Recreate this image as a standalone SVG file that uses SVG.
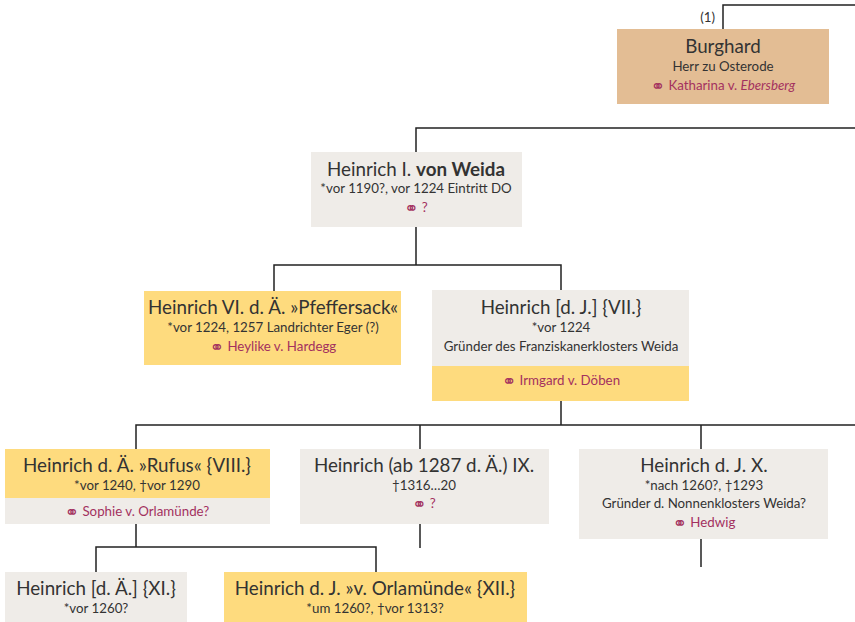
<svg xmlns="http://www.w3.org/2000/svg" width="855" height="622" viewBox="0 0 855 622">
<style>
.bg{fill:#ffffff}
.g{fill:#efece8}
.y{fill:#fedb7e}
.b{fill:#e3bd94}
text{font-family:"Lato","Noto Sans",sans-serif;fill:#333;text-anchor:middle}
.t{font-size:18.8px}
.d{font-size:13.3px}
.m{font-size:13.3px;fill:#a3315f}
.sym{font-family:"DejaVu Sans Mono","DejaVu Sans",sans-serif;font-size:17px;fill:#a3315f}
.c{fill:none;stroke:#222;stroke-width:1.5}
</style>
<rect class="bg" width="855" height="622"/>
<g id="connectors">
<path class="c" d="M723 29V5H855"/>
<path class="c" d="M416 152V128H855"/>
<path class="c" d="M416 227V265M274 291V265H561V290"/>
<path class="c" d="M561 401V425M136 449V425H855M420 425V449M701 425V449"/>
<path class="c" d="M701 539V567"/>
<path class="c" d="M420 524V548"/>
<path class="c" d="M136 524V547M96 572V547H376V572"/>
</g>
<text x="715" y="22" class="d" style="text-anchor:end">(1)</text>
<g id="burghard">
<rect class="b" x="617" y="29" width="212" height="75"/>
<text x="723" y="53" class="t">Burghard</text>
<text x="723" y="71" class="d">Herr zu Osterode</text>
<text x="723" y="90" class="m"><tspan class="sym" dy="2">⚭</tspan><tspan dy="-2"> Katharina v. </tspan><tspan font-style="italic">Ebersberg</tspan></text>
</g>
<g id="heinrich1">
<rect class="g" x="311" y="152" width="211" height="75"/>
<text x="416" y="176" class="t">Heinrich I. <tspan font-weight="bold">von Weida</tspan></text>
<text x="416" y="193" class="d">*vor 1190?, vor 1224 Eintritt DO</text>
<text x="416" y="212" class="m"><tspan class="sym" dy="2">⚭</tspan><tspan dy="-2"> ?</tspan></text>
</g>
<g id="heinrich6">
<rect class="y" x="144" y="291" width="257" height="74"/>
<text x="273" y="314" class="t">Heinrich VI. d. Ä. »Pfeffersack«</text>
<text x="273" y="332" class="d">*vor 1224, 1257 Landrichter Eger (?)</text>
<text x="273" y="351" class="m"><tspan class="sym" dy="2">⚭</tspan><tspan dy="-2"> Heylike v. Hardegg</tspan></text>
</g>
<g id="heinrich7">
<rect class="g" x="432" y="290" width="257" height="76"/>
<rect class="y" x="432" y="366" width="257" height="35"/>
<text x="561" y="314" class="t">Heinrich [d. J.] {VII.}</text>
<text x="561" y="332" class="d">*vor 1224</text>
<text x="561" y="351" class="d">Gründer des Franziskanerklosters Weida</text>
<text x="561" y="385" class="m"><tspan class="sym" dy="2">⚭</tspan><tspan dy="-2"> Irmgard v. Döben</tspan></text>
</g>
<g id="heinrich8">
<rect class="y" x="5" y="449" width="265" height="49"/>
<rect class="g" x="5" y="498" width="265" height="26"/>
<text x="137" y="472" class="t">Heinrich d. Ä. »Rufus« {VIII.}</text>
<text x="137" y="490" class="d">*vor 1240, †vor 1290</text>
<text x="137" y="516" class="m"><tspan class="sym" dy="2">⚭</tspan><tspan dy="-2"> Sophie v. Orlamünde?</tspan></text>
</g>
<g id="heinrich9">
<rect class="g" x="300" y="449" width="249" height="75"/>
<text x="424" y="472" class="t">Heinrich (ab 1287 d. Ä.) IX.</text>
<text x="424" y="490" class="d">†1316…20</text>
<text x="424" y="508" class="m"><tspan class="sym" dy="2">⚭</tspan><tspan dy="-2"> ?</tspan></text>
</g>
<g id="heinrich10">
<rect class="g" x="579" y="449" width="249" height="90"/>
<text x="704" y="472" class="t">Heinrich d. J. X.</text>
<text x="704" y="490" class="d">*nach 1260?, †1293</text>
<text x="704" y="508" class="d">Gründer d. Nonnenklosters Weida?</text>
<text x="704" y="527" class="m"><tspan class="sym" dy="2">⚭</tspan><tspan dy="-2"> Hedwig</tspan></text>
</g>
<g id="heinrich11">
<rect class="g" x="5" y="572" width="182" height="50"/>
<text x="96" y="595" class="t">Heinrich [d. Ä.] {XI.}</text>
<text x="96" y="613" class="d">*vor 1260?</text>
</g>
<g id="heinrich12">
<rect class="y" x="224" y="572" width="303" height="50"/>
<text x="375" y="595" class="t">Heinrich d. J. »v. Orlamünde« {XII.}</text>
<text x="375" y="613" class="d">*um 1260?, †vor 1313?</text>
</g>
</svg>
